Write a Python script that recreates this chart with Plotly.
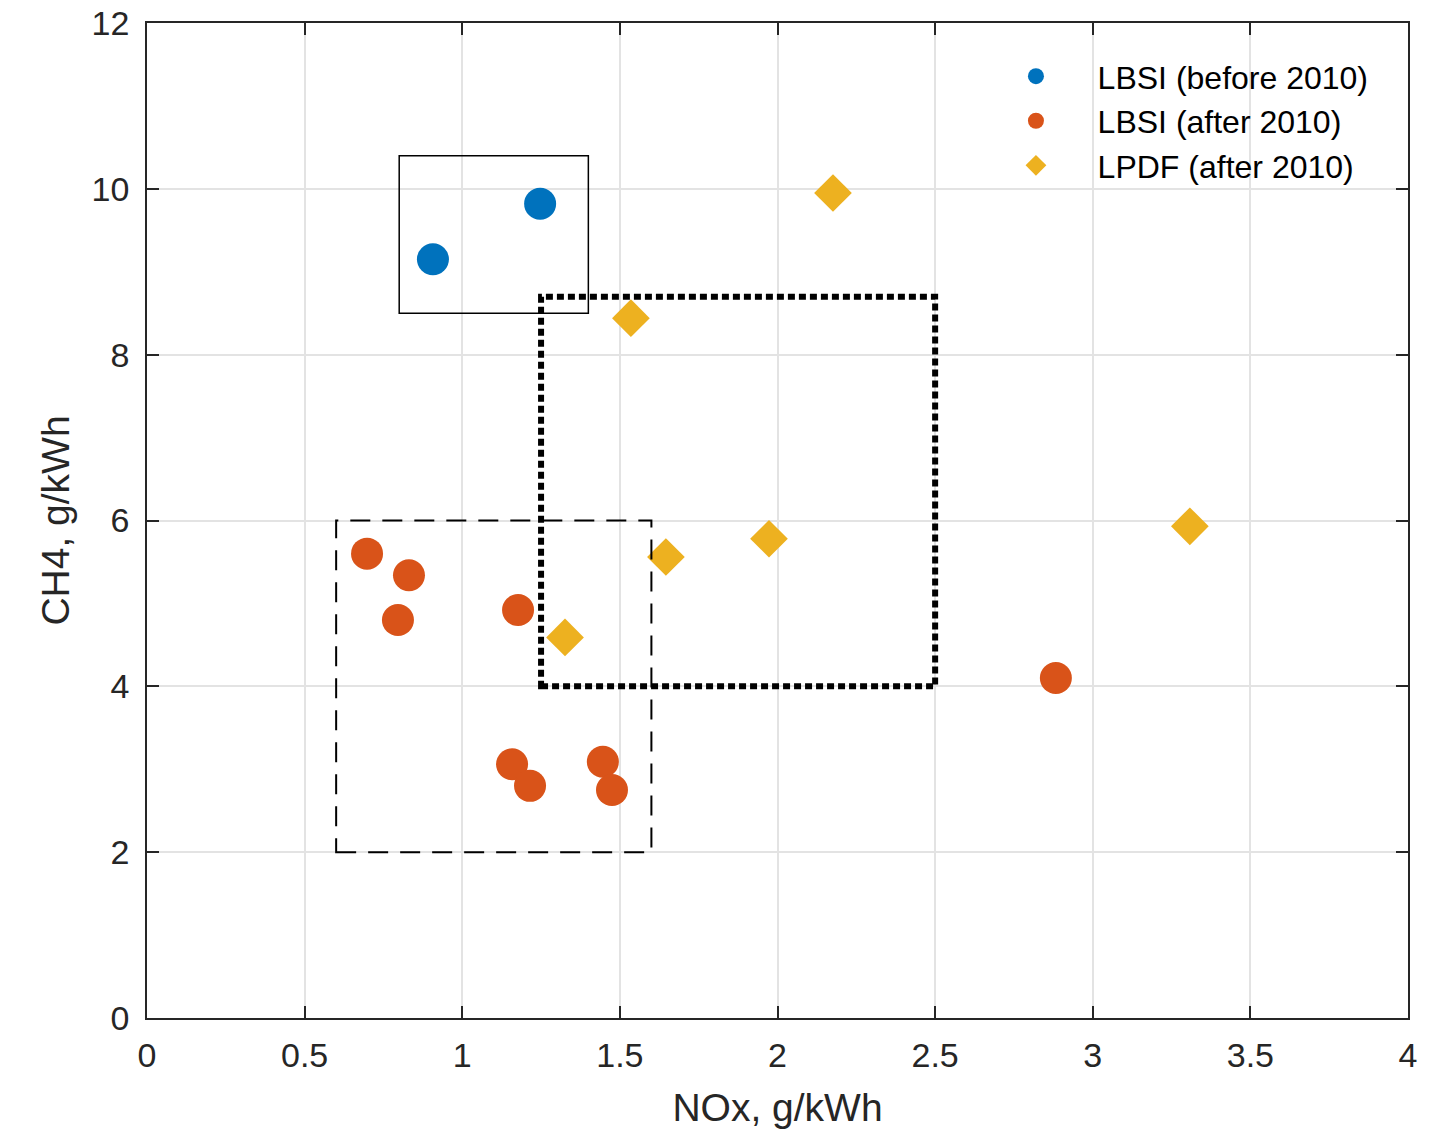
import plotly.graph_objects as go

# Data
blue_x = [0.907, 1.247]
blue_y = [9.15, 9.82]
orange_x = [0.698, 0.831, 0.796, 1.177, 1.158, 1.215, 1.446, 1.475, 2.883]
orange_y = [5.60, 5.34, 4.80, 4.92, 3.06, 2.80, 3.09, 2.75, 4.10]
yellow_x = [2.176, 1.535, 1.646, 1.973, 1.326, 3.308]
yellow_y = [9.95, 8.44, 5.56, 5.78, 4.59, 5.93]
series_names = ["LBSI (before 2010)", "LBSI (after 2010)", "LPDF (after 2010)"]

# Boxes: (x0, x1, y0, y1)
box_solid = (0.8, 1.4, 8.5, 10.4)
box_dotted = (1.25, 2.5, 4.0, 8.7)
box_dashed = (0.6, 1.6, 2.0, 6.0)

x_ticks = [0, 0.5, 1, 1.5, 2, 2.5, 3, 3.5, 4]
x_ticklabels = ["0", "0.5", "1", "1.5", "2", "2.5", "3", "3.5", "4"]
y_ticks = [0, 2, 4, 6, 8, 10, 12]

FONT = "Liberation Sans, Arial, sans-serif"
TXT = "#262626"
PAD = "\u00a0\u00a0\u00a0"

fig = go.Figure()
fig.add_trace(go.Scatter(x=blue_x, y=blue_y, mode="markers", name=PAD + series_names[0],
                         marker=dict(symbol="circle", size=32, color="#0072BD")))
fig.add_trace(go.Scatter(x=orange_x, y=orange_y, mode="markers", name=PAD + series_names[1],
                         marker=dict(symbol="circle", size=32, color="#D95319")))
fig.add_trace(go.Scatter(x=yellow_x, y=yellow_y, mode="markers", name=PAD + series_names[2],
                         marker=dict(symbol="diamond", size=29, color="#EDB120")))

def rect(b, width, dash):
    fig.add_shape(type="rect", xref="x", yref="y", x0=b[0], x1=b[1], y0=b[2], y1=b[3],
                  line=dict(color="black", width=width, dash=dash), layer="above")

rect(box_solid, 1.5, "solid")
rect(box_dashed, 2, "20px,12px")
rect(box_dotted, 6, "7px,4px")

axis_common = dict(
    showline=True, linecolor=TXT, linewidth=1.5, mirror="ticks",
    ticks="inside", ticklen=12, tickwidth=1.5, tickcolor=TXT,
    showgrid=True, gridcolor="#e3e3e3", gridwidth=1.5,
    zeroline=False, automargin=False, ticklabeloverflow="allow",
    tickfont=dict(family=FONT, size=34, color=TXT),
)

fig.update_xaxes(range=[0, 4], tickvals=x_ticks, ticktext=x_ticklabels,
                 ticklabelstandoff=6,
                 title=dict(text="NOx, g/kWh", font=dict(family=FONT, size=39, color=TXT), standoff=21),
                 **axis_common)
fig.update_yaxes(range=[0, 12], tickvals=y_ticks,
                 ticklabelstandoff=9,
                 title=dict(text="CH4, g/kWh", font=dict(family=FONT, size=39, color=TXT), standoff=10),
                 **axis_common)

fig.update_layout(
    width=1433, height=1132,
    margin=dict(l=147, r=25, t=23, b=114),
    plot_bgcolor="white", paper_bgcolor="white",
    font=dict(family=FONT, color=TXT),
    legend=dict(x=0.973, y=0.974, xanchor="right", yanchor="top",
                bgcolor="rgba(0,0,0,0)", borderwidth=0,
                font=dict(family=FONT, size=32, color="#000000"),
                itemwidth=60, tracegroupgap=0),
)

fig.write_html("out.html", config={"displayModeBar": False},
               post_script="document.body.style.margin='0';document.body.style.overflow='hidden';")
